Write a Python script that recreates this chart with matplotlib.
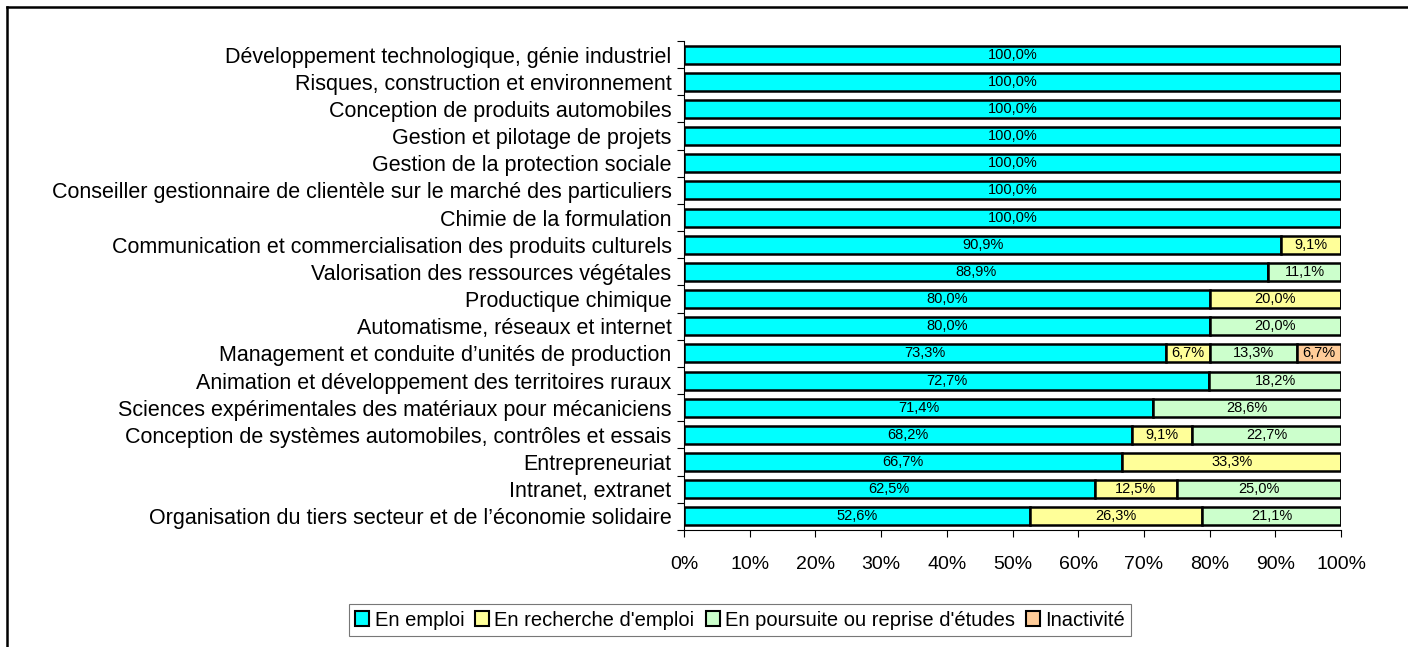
import matplotlib.pyplot as plt
import numpy as np
from matplotlib.lines import Line2D

plt.rcParams['font.family'] = ['Liberation Sans', 'DejaVu Sans']

categories = [
    "Développement technologique, génie industriel",
    "Risques, construction et environnement",
    "Conception de produits automobiles",
    "Gestion et pilotage de projets",
    "Gestion de la protection sociale",
    "Conseiller gestionnaire de clientèle sur le marché des particuliers",
    "Chimie de la formulation",
    "Communication et commercialisation des produits culturels",
    "Valorisation des ressources végétales",
    "Productique chimique",
    "Automatisme, réseaux et internet",
    "Management et conduite d’unités de production",
    "Animation et développement des territoires ruraux",
    "Sciences expérimentales des matériaux pour mécaniciens",
    "Conception de systèmes automobiles, contrôles et essais",
    "Entrepreneuriat",
    "Intranet, extranet",
    "Organisation du tiers secteur et de l’économie solidaire",
]
en_emploi = [100, 100, 100, 100, 100, 100, 100, 90.9, 88.9, 80.0, 80.0, 73.3, 72.7, 71.4, 68.2, 66.7, 62.5, 52.6]
en_recherche = [0, 0, 0, 0, 0, 0, 0, 9.1, 0, 20.0, 0, 6.7, 0, 0, 9.1, 33.3, 12.5, 26.3]
en_poursuite = [0, 0, 0, 0, 0, 0, 0, 0, 11.1, 0, 20.0, 13.3, 18.2, 28.6, 22.7, 0, 25.0, 21.1]
inactivite = [0, 0, 0, 0, 0, 0, 0, 0, 0, 0, 0, 6.7, 0, 0, 0, 0, 0, 0]

series_names = ["En emploi", "En recherche d'emploi", "En poursuite ou reprise d'études", "Inactivité"]
colors = ["#00FFFF", "#FFFF99", "#CCFFCC", "#FFCC99"]

raw = np.array([en_emploi, en_recherche, en_poursuite, inactivite])
# 100% stacked: each row is scaled to its own total
share = raw / raw.sum(axis=0) * 100

fig = plt.figure(figsize=(14.08, 6.47), dpi=100)
ax = fig.add_axes([684/1408, 1 - 530/647, (1341-684)/1408, (530-41)/647])

y = np.arange(len(categories))
left = np.zeros(len(categories))
for k in range(4):
    ax.barh(y, share[k], left=left, height=0.66, color=colors[k], edgecolor='black',
            linewidth=1.8, label=series_names[k])
    for i in range(len(categories)):
        if raw[k, i] > 0:
            txt = f"{raw[k, i]:.1f}%".replace('.', ',')
            ax.text(left[i] + share[k, i] / 2, y[i], txt, ha='center', va='center', fontsize=10.5)
    left = left + share[k]

ax.set_ylim(len(categories) - 0.5, -0.5)
ax.set_xlim(0, 100)
ax.set_yticks(y)
ax.set_yticklabels(categories, fontsize=15.5)
ax.set_yticks(np.arange(len(categories) + 1) - 0.5, minor=True)
ax.tick_params(axis='y', which='major', length=0, pad=9)
ax.tick_params(axis='y', which='minor', length=5, direction='out', width=0.8)
ax.set_xticks(np.arange(0, 101, 10))
ax.set_xticklabels([f"{v}%" for v in range(0, 101, 10)], fontsize=14)
ax.tick_params(axis='x', length=5, direction='out', width=0.8, pad=14)

for side in ['top', 'right']:
    ax.spines[side].set_visible(False)
ax.spines['left'].set_linewidth(0.8)
ax.spines['bottom'].set_linewidth(0.8)

leg = fig.legend(loc='center', bbox_to_anchor=(740/1408, 1 - 620/647), ncol=4, fontsize=14.5,
                 frameon=True, fancybox=False, handlelength=0.7, handleheight=0.7,
                 handletextpad=0.25, columnspacing=0.55, borderpad=0.3)
leg.get_frame().set_edgecolor('#555555')
leg.get_frame().set_linewidth(0.8)
for h in leg.legend_handles:
    h.set_linewidth(1.5)

# outer chart frame (left and top edges visible)
fig.add_artist(Line2D([7/1408, 7/1408], [0, 1 - 7/647], color='black', linewidth=1.8))
fig.add_artist(Line2D([7/1408, 1], [1 - 7/647, 1 - 7/647], color='black', linewidth=1.8))

fig.savefig('out.png', dpi=100)
